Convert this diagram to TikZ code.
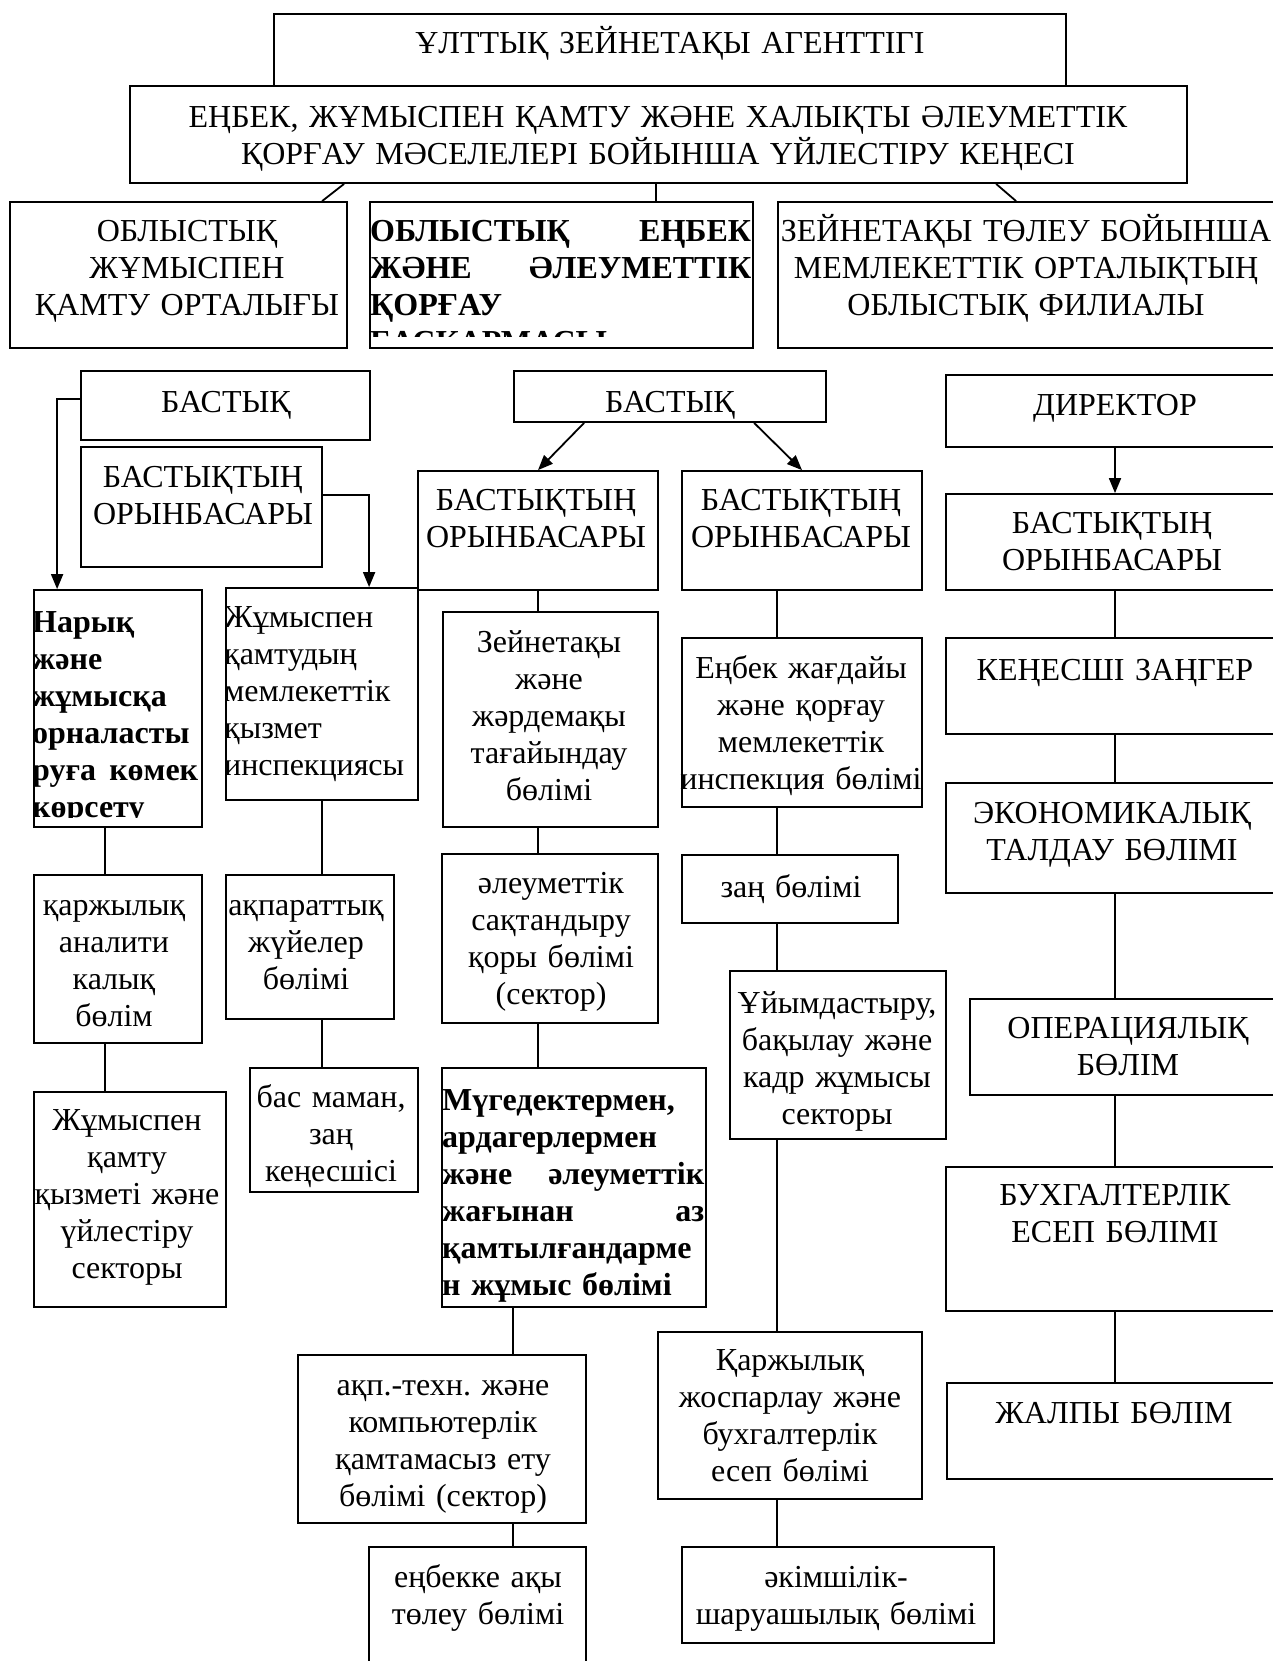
\documentclass[tikz,border=0pt]{standalone}
\usepackage{fontspec}
\setmainfont{Liberation Serif}
\usetikzlibrary{arrows.meta,calc}
\frenchspacing
\tikzset{
  bx/.style={draw, line width=1.8pt, fill=white, inner sep=0pt, rectangle},
  tx/.style={inner sep=0pt, text width=1200pt, align=center, font=\fontsize{32}{37}\selectfont},
  tlb/.style={inner sep=0pt, align=left, font=\fontsize{32}{37}\selectfont\bfseries},
  tln/.style={inner sep=0pt, align=left, font=\fontsize{32}{37}\selectfont},
  ln/.style={line width=1.8pt},
  arr/.style={line width=1.8pt, -{Triangle[length=15pt,width=12pt]}},
}
\newcommand\bxn[5]{\node[bx, minimum width={(#4)-(#2)}, minimum height={(#5)-(#3)}] (#1) at ({((#2)+(#4))/2},{((#3)+(#5))/2}) {};}
\newcommand\txn[4]{\node[tx, anchor=base] (#1) at (#2,#3) {#4};}
\begin{document}
\begin{tikzpicture}[x=1pt,y=-1pt]
\fill[white] (0,0) rectangle (1273,1661);
\useasboundingbox (0,0) rectangle (1273,1661);
% boxes
\bxn{T}{274}{14}{1066}{86}
\bxn{B2}{130}{86}{1187}{183}
\bxn{A}{10}{202}{347}{348}
\bxn{B}{370}{202}{753}{348}
\bxn{C}{778}{202}{1280}{348}
\bxn{LB}{81}{371}{370}{440}
\bxn{LBO}{81}{447}{322}{567}
\bxn{MB}{514}{371}{826}{422}
\bxn{BOml}{418}{471}{658}{590}
\bxn{BOmr}{682}{471}{922}{590}
\bxn{Dir}{946}{375}{1284}{447}
\bxn{BOr}{946}{494}{1284}{590}
\bxn{Nar}{34}{590}{202}{827}
\bxn{Zhum}{226}{588}{418}{800}
\bxn{Zein}{443}{612}{658}{827}
\bxn{Enb}{682}{638}{922}{807}
\bxn{Ken}{946}{638}{1284}{734}
\bxn{Eko}{946}{783}{1284}{893}
\bxn{Karzh}{34}{875}{202}{1043}
\bxn{Akp}{226}{875}{394}{1019}
\bxn{Aleu}{442}{854}{658}{1023}
\bxn{Zan}{682}{855}{898}{923}
\bxn{Uiym}{730}{971}{946}{1139}
\bxn{Oper}{970}{999}{1286}{1095}
\bxn{Zhk}{34}{1092}{226}{1307}
\bxn{Bas}{250}{1068}{418}{1192}
\bxn{Mug}{442}{1068}{706}{1307}
\bxn{Buh}{946}{1167}{1284}{1311}
\bxn{Akt}{298}{1355}{586}{1523}
\bxn{Karzh2}{658}{1332}{922}{1499}
\bxn{Zhalpy}{947}{1383}{1284}{1479}
\bxn{Enbk}{369}{1547}{586}{1690}
\bxn{Akim}{682}{1547}{994}{1643}
% connectors
\draw[ln] ($(B2.south west)+(215,0)$) -- ($(A.north west)+(313,0)$);
\draw[ln] ($(B2.south west)+(527,0)$) -- ($(B.north west)+(287,0)$);
\draw[ln] ($(B2.south west)+(867,0)$) -- ($(C.north west)+(239,0)$);
\draw[arr] ([yshift=6.5pt]LB.west) -| ($(Nar.north west)+(24,0)$);
\draw[arr] ([yshift=12pt]LBO.east) -| ($(Zhum.north west)+(144,0)$);
\draw[arr] ($(MB.south west)+(71,0)$) -- (BOml.north);
\draw[arr] ($(MB.south west)+(241,0)$) -- (BOmr.north);
\draw[arr] (Dir.south) -- (Dir.south |- BOr.north);
\draw[ln] (BOr.south) -- (BOr.south |- Ken.north);
\draw[ln] (Ken.south) -- (Ken.south |- Eko.north);
\draw[ln] (Eko.south) -- (Eko.south |- Oper.north);
\draw[ln] (Eko.south |- Oper.south) -- (Eko.south |- Buh.north);
\draw[ln] (Buh.south) -- (Buh.south |- Zhalpy.north);
\coordinate (cx1) at ($(Nar.south west)+(72,0)$);
\draw[ln] (cx1) -- (cx1 |- Karzh.north);
\draw[ln] (cx1 |- Karzh.south) -- (cx1 |- Zhk.north);
\draw[ln] (Zhum.south) -- (Zhum.south |- Akp.north);
\draw[ln] (Zhum.south |- Akp.south) -- (Zhum.south |- Bas.north);
\draw[ln] (BOml.south) -- (BOml.south |- Zein.north);
\draw[ln] (BOml.south |- Zein.south) -- (BOml.south |- Aleu.north);
\draw[ln] (BOml.south |- Aleu.south) -- (BOml.south |- Mug.north);
\coordinate (cx2) at ($(Mug.south west)+(72,0)$);
\draw[ln] (cx2) -- (cx2 |- Akt.north);
\draw[ln] (cx2 |- Akt.south) -- (cx2 |- Enbk.north);
\coordinate (cx3) at ($(BOmr.south west)+(96,0)$);
\draw[ln] (cx3) -- (cx3 |- Enb.north);
\draw[ln] (cx3 |- Enb.south) -- (cx3 |- Zan.north);
\draw[ln] (cx3 |- Zan.south) -- (cx3 |- Uiym.north);
\draw[ln] (cx3 |- Uiym.south) -- (cx3 |- Karzh2.north);
\draw[ln] (cx3 |- Karzh2.south) -- (cx3 |- Akim.north);
% texts
\txn{Tt}{670}{54}{ҰЛТТЫҚ ЗЕЙНЕТАҚЫ АГЕНТТІГІ}
\txn{B2t}{658}{128}{ЕҢБЕК, ЖҰМЫСПЕН ҚАМТУ ЖӘНЕ ХАЛЫҚТЫ ӘЛЕУМЕТТІК\\ҚОРҒАУ МӘСЕЛЕЛЕРІ БОЙЫНША ҮЙЛЕСТІРУ КЕҢЕСІ}
\txn{At}{187}{242}{ОБЛЫСТЫҚ\\ЖҰМЫСПЕН\\ҚАМТУ ОРТАЛЫҒЫ}
\begin{scope}
\clip (370,202) rectangle (753,336);
\node[tlb, text width=381pt, anchor=base west] (Bt) at (370,242) {ОБЛЫСТЫҚ\hfill ЕҢБЕК\\ЖӘНЕ\hfill ӘЛЕУМЕТТІК\\ҚОРҒАУ\\БАСҚАРМАСЫ};
\end{scope}
\txn{Ct}{1026}{242}{ЗЕЙНЕТАҚЫ ТӨЛЕУ БОЙЫНША\\МЕМЛЕКЕТТІК ОРТАЛЫҚТЫҢ\\ОБЛЫСТЫҚ ФИЛИАЛЫ}
\txn{LBt}{226}{412}{БАСТЫҚ}
\txn{LBOt}{203}{487}{БАСТЫҚТЫҢ\\ОРЫНБАСАРЫ}
\txn{MBt}{670}{412}{БАСТЫҚ}
\txn{BOmlt}{536}{510}{БАСТЫҚТЫҢ\\ОРЫНБАСАРЫ}
\txn{BOmrt}{801}{510}{БАСТЫҚТЫҢ\\ОРЫНБАСАРЫ}
\txn{Dirt}{1115}{415}{ДИРЕКТОР}
\txn{BOrt}{1112}{533}{БАСТЫҚТЫҢ\\ОРЫНБАСАРЫ}
\begin{scope}
\clip (34,590) rectangle (202,817);
\node[tlb, text width=166pt, anchor=base west] (Nart) at (32,632) {Нарық\\және\\жұмысқа\\орналасты\\руға\hfill көмек\\көрсету};
\end{scope}
\begin{scope}
\clip (226,588) rectangle (418,800);
\node[tln, text width=190pt, anchor=base west] (Zhumt) at (224,627) {Жұмыспен\\қамтудың\\мемлекеттік\\қызмет\\инспекциясы};
\end{scope}
\txn{Zeint}{549}{652}{Зейнетақы\\және\\жәрдемақы\\тағайындау\\бөлімі}
\txn{Enbt}{801}{678}{Еңбек жағдайы\\және қорғау\\мемлекеттік\\инспекция бөлімі}
\txn{Kent}{1115}{680}{КЕҢЕСШІ ЗАҢГЕР}
\txn{Ekot}{1112}{823}{ЭКОНОМИКАЛЫҚ\\ТАЛДАУ БӨЛІМІ}
\txn{Karzht}{114}{915}{қаржылық\\аналити\\калық\\бөлім}
\txn{Akpt}{306}{915}{ақпараттық\\жүйелер\\бөлімі}
\txn{Aleut}{551}{893}{әлеуметтік\\сақтандыру\\қоры бөлімі\\(сектор)}
\txn{Zant}{791}{897}{заң бөлімі}
\txn{Uiymt}{837}{1013}{Ұйымдастыру,\\бақылау және\\кадр жұмысы\\секторы}
\txn{Opert}{1128}{1038}{ОПЕРАЦИЯЛЫҚ\\БӨЛІМ}
\txn{Zhkt}{127}{1130}{Жұмыспен\\қамту\\қызметі және\\үйлестіру\\секторы}
\txn{Bast}{331}{1107}{бас маман,\\заң\\кеңесшісі}
\node[tlb, text width=262pt, anchor=base west] (Mugt) at (442,1110) {Мүгедектермен,\\ардагерлермен\\және\hfill әлеуметтік\\жағынан\hfill аз\\қамтылғандарме\\н жұмыс бөлімі};
\txn{Buht}{1115}{1205}{БУХГАЛТЕРЛІК\\ЕСЕП БӨЛІМІ}
\txn{Aktt}{443}{1395}{ақп.-техн. және\\компьютерлік\\қамтамасыз ету\\бөлімі (сектор)}
\txn{Karzh2t}{790}{1370}{Қаржылық\\жоспарлау және\\бухгалтерлік\\есеп бөлімі}
\txn{Zhalpyt}{1114}{1423}{ЖАЛПЫ БӨЛІМ}
\txn{Enbkt}{478}{1587}{еңбекке ақы\\төлеу бөлімі}
\txn{Akimt}{836}{1587}{әкімшілік-\\шаруашылық бөлімі}
\end{tikzpicture}
\end{document}
